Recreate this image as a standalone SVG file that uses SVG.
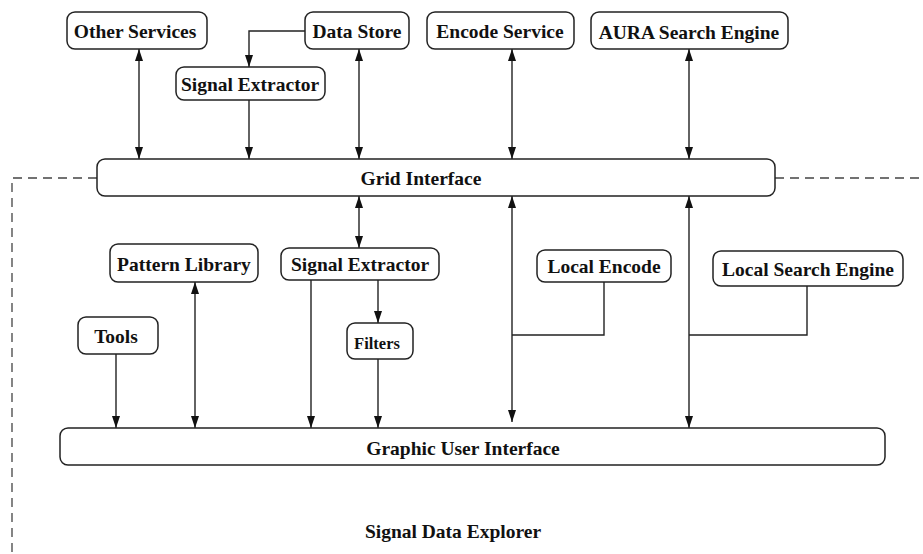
<svg xmlns="http://www.w3.org/2000/svg" width="923" height="554" viewBox="0 0 923 554">
<defs>
<style>
.box{fill:#fff;stroke:#222;stroke-width:1.5}
.t{font-family:"Liberation Serif","Times New Roman",serif;font-weight:bold;font-size:19.5px;fill:#111;text-anchor:middle;dominant-baseline:central}
.tc{font-family:"Liberation Serif","Times New Roman",serif;font-weight:bold;font-size:19.5px;fill:#111;text-anchor:middle;dominant-baseline:central}
.ln{fill:none;stroke:#222;stroke-width:1.4}
.dash{fill:none;stroke:#444;stroke-width:1.3;stroke-dasharray:9 6}
</style>
<marker id="ah" markerUnits="userSpaceOnUse" markerWidth="13" markerHeight="8" refX="12" refY="4" orient="auto-start-reverse">
<path d="M0,0 L12,4 L0,8 z" fill="#111"/>
</marker>
</defs>
<rect width="923" height="554" fill="#fff"/>
<g id="boundary">
<path class="dash" d="M97,178 H12 V554"/>
<path class="dash" d="M775,178 H923"/>
</g>
<g id="connectors">
<path class="ln" d="M139,49 V159" marker-start="url(#ah)" marker-end="url(#ah)"/>
<path class="ln" d="M305,31 H249 V67" marker-end="url(#ah)"/>
<path class="ln" d="M249,100 V159" marker-end="url(#ah)"/>
<path class="ln" d="M359,49 V159" marker-start="url(#ah)" marker-end="url(#ah)"/>
<path class="ln" d="M512,49 V159" marker-start="url(#ah)" marker-end="url(#ah)"/>
<path class="ln" d="M689,49 V159" marker-start="url(#ah)" marker-end="url(#ah)"/>
<path class="ln" d="M359,196 V248" marker-start="url(#ah)" marker-end="url(#ah)"/>
<path class="ln" d="M195,282 V428" marker-start="url(#ah)" marker-end="url(#ah)"/>
<path class="ln" d="M116,354 V428" marker-end="url(#ah)"/>
<path class="ln" d="M311,280 V428" marker-end="url(#ah)"/>
<path class="ln" d="M378,280 V323" marker-end="url(#ah)"/>
<path class="ln" d="M378,359 V428" marker-end="url(#ah)"/>
<path class="ln" d="M512,196 V422" marker-start="url(#ah)" marker-end="url(#ah)"/>
<path class="ln" d="M604,282 V335 H512"/>
<path class="ln" d="M689,196 V428" marker-start="url(#ah)" marker-end="url(#ah)"/>
<path class="ln" d="M807,286 V335 H689"/>
</g>
<g id="other-services"><rect class="box" x="67" y="12" width="140" height="37" rx="8"/><text class="t" x="135" y="31">Other Services</text></g>
<g id="data-store"><rect class="box" x="305" y="12" width="104" height="37" rx="8"/><text class="t" x="357" y="31">Data Store</text></g>
<g id="encode-service"><rect class="box" x="427" y="12" width="147" height="37" rx="8"/><text class="t" x="500" y="31">Encode Service</text></g>
<g id="aura-search-engine"><rect class="box" x="591" y="12" width="197" height="37" rx="8"/><text class="t" x="689" y="32">AURA Search Engine</text></g>
<g id="signal-extractor-top"><rect class="box" x="176" y="67" width="149" height="33" rx="8"/><text class="t" x="250" y="84">Signal Extractor</text></g>
<g id="grid-interface"><rect class="box" x="97" y="159" width="678" height="37" rx="8"/><text class="t" x="421" y="178">Grid Interface</text></g>
<g id="pattern-library"><rect class="box" x="110" y="244" width="148" height="38" rx="8"/><text class="t" x="184" y="264">Pattern Library</text></g>
<g id="signal-extractor"><rect class="box" x="281" y="248" width="158" height="32" rx="8"/><text class="t" x="360" y="264">Signal Extractor</text></g>
<g id="local-encode"><rect class="box" x="537" y="250" width="134" height="32" rx="8"/><text class="t" x="604" y="266">Local Encode</text></g>
<g id="local-search-engine"><rect class="box" x="713" y="251" width="190" height="35" rx="8"/><text class="t" x="808" y="269">Local Search Engine</text></g>
<g id="tools"><rect class="box" x="78" y="317" width="80" height="37" rx="8"/><text class="t" x="116" y="336">Tools</text></g>
<g id="filters"><rect class="box" x="347" y="323" width="66" height="36" rx="8"/><text class="t" x="377" y="343" style="font-size:16.5px">Filters</text></g>
<g id="graphic-user-interface"><rect class="box" x="60" y="428" width="825" height="37" rx="8"/><text class="tc" x="463" y="448">Graphic User Interface</text></g>
<g id="label"><text class="tc" x="453" y="531">Signal Data Explorer</text></g>
</svg>
